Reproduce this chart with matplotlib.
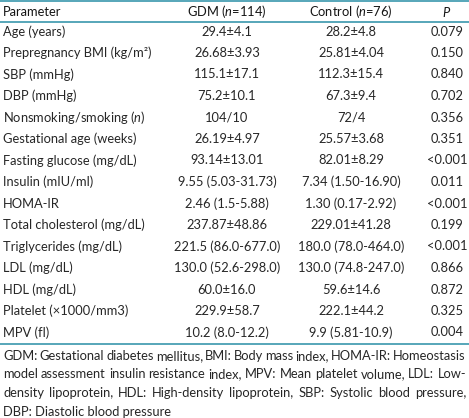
import matplotlib
matplotlib.use('Agg')
import matplotlib.pyplot as plt

plt.rcParams['font.family'] = ['Lato', 'DejaVu Sans']
plt.rcParams['mathtext.fontset'] = 'custom'
plt.rcParams['mathtext.it'] = 'Lato:italic'
plt.rcParams['mathtext.rm'] = 'Lato'

# dane tabeli
naglowki = ['Parameter', 'GDM ($n$=114)', 'Control ($n$=76)', '$P$']
parametry = ['Age (years)', 'Prepregnancy BMI (kg/m\u00b2)', 'SBP (mmHg)', 'DBP (mmHg)',
             'Nonsmoking/smoking ($n$)', 'Gestational age (weeks)', 'Fasting glucose (mg/dL)',
             'Insulin (mIU/ml)', 'HOMA-IR', 'Total cholesterol (mg/dL)', 'Triglycerides (mg/dL)',
             'LDL (mg/dL)', 'HDL (mg/dL)', 'Platelet (\u00d71000/mm3)', 'MPV (fl)']
gdm = ['29.4\u00b14.1', '26.68\u00b13.93', '115.1\u00b117.1', '75.2\u00b110.1', '104/10',
       '26.19\u00b14.97', '93.14\u00b113.01', '9.55 (5.03-31.73)', '2.46 (1.5-5.88)',
       '237.87\u00b148.86', '221.5 (86.0-677.0)', '130.0 (52.6-298.0)', '60.0\u00b116.0',
       '229.9\u00b158.7', '10.2 (8.0-12.2)']
kontrola = ['28.2\u00b14.8', '25.81\u00b14.04', '112.3\u00b115.4', '67.3\u00b19.4', '72/4',
            '25.57\u00b13.68', '82.01\u00b18.29', '7.34 (1.50-16.90)', '1.30 (0.17-2.92)',
            '229.01\u00b141.28', '180.0 (78.0-464.0)', '130.0 (74.8-247.0)', '59.6\u00b114.6',
            '222.1\u00b144.2', '9.9 (5.81-10.9)']
p_wartosci = ['0.079', '0.150', '0.840', '0.702', '0.356', '0.351', '<0.001', '0.011',
              '<0.001', '0.199', '<0.001', '0.866', '0.872', '0.325', '0.004']
przypis = ['GDM: Gestational diabetes mellitus, BMI: Body mass index, HOMA-IR: Homeostasis',
           'model assessment insulin resistance index, MPV: Mean platelet volume, LDL: Low-',
           'density lipoprotein, HDL: High-density lipoprotein, SBP: Systolic blood pressure,',
           'DBP: Diastolic blood pressure']

W, H = 469, 418
kolor_linii = '#3a97ad'
kolor_tekstu = '#262626'
rozmiar = 9.3

fig = plt.figure(figsize=(W / 100, H / 100), dpi=100)
ax = fig.add_axes([0, 0, 1, 1])
ax.set_xlim(0, W)
ax.set_ylim(H, 0)
ax.axis('off')

x_kol = [3, 227, 351, 447]
y_nagl = 12
y0 = 31.5
krok = 21.5

# naglowek
ax.text(x_kol[0], y_nagl, naglowki[0], ha='left', va='center', fontsize=rozmiar, color='#151515')
for i in range(1, 4):
    ax.text(x_kol[i], y_nagl, naglowki[i], ha='center', va='center', fontsize=rozmiar, color='#151515')

# wiersze
for i in range(len(parametry)):
    y = y0 + i * krok
    ax.text(x_kol[0], y, parametry[i], ha='left', va='center', fontsize=rozmiar, color=kolor_tekstu)
    ax.text(x_kol[1], y, gdm[i], ha='center', va='center', fontsize=rozmiar, color=kolor_tekstu)
    ax.text(x_kol[2], y, kontrola[i], ha='center', va='center', fontsize=rozmiar, color=kolor_tekstu)
    ax.text(x_kol[3], y, p_wartosci[i], ha='center', va='center', fontsize=rozmiar, color=kolor_tekstu)

y_dol = y0 + (len(parametry) - 1) * krok + 11.5
for yy in [1, 21.5, y_dol]:
    ax.plot([0, W], [yy, yy], color=kolor_linii, lw=1.2, solid_capstyle='butt')

# przypis - tekst wyjustowany
fig.canvas.draw()
renderer = fig.canvas.get_renderer()
lewy, prawy = 3, 466
y_p = y_dol + 12
for n, linia in enumerate(przypis):
    yy = y_p + n * 18.5
    slowa = linia.split(' ')
    if n == len(przypis) - 1:
        ax.text(lewy, yy, linia, ha='left', va='center', fontsize=rozmiar, color=kolor_tekstu)
        continue
    teksty = [ax.text(0, yy, s, ha='left', va='center', fontsize=rozmiar, color=kolor_tekstu) for s in slowa]
    szer = [t.get_window_extent(renderer).width for t in teksty]
    odstep = (prawy - lewy - sum(szer)) / (len(slowa) - 1)
    x = lewy
    for t, s in zip(teksty, szer):
        t.set_x(x)
        x += s + odstep

fig.savefig('out.png', dpi=100)
